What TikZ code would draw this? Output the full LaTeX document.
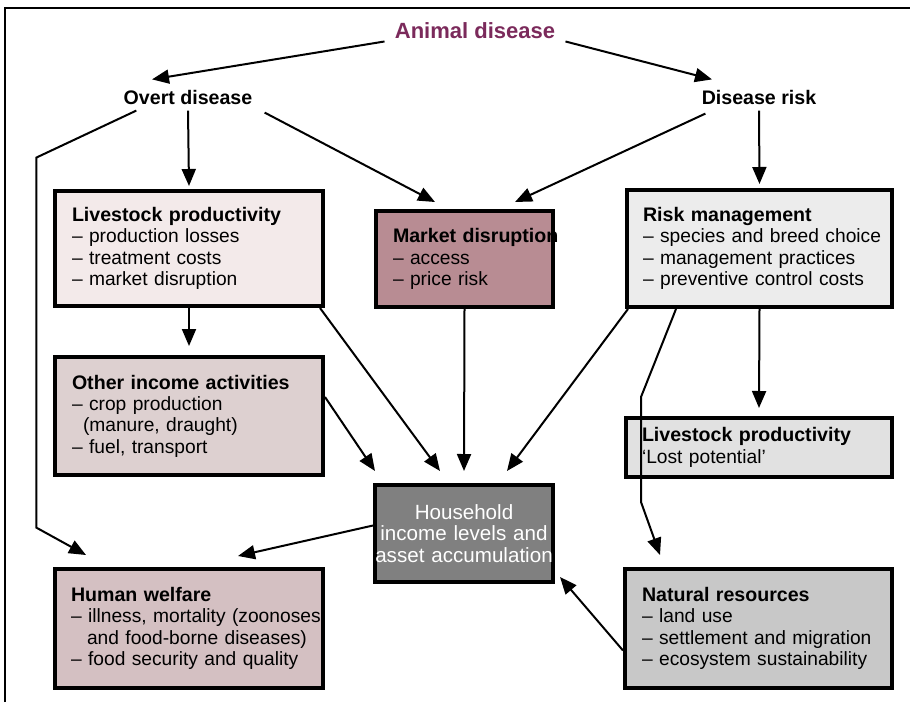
\documentclass[tikz,border=0pt]{standalone}
\usepackage{fontspec}
\setmainfont{Liberation Sans}
\usetikzlibrary{arrows.meta,calc}

\definecolor{adtitle}{RGB}{123,42,91}
\definecolor{fillLP}{RGB}{243,234,234}
\definecolor{fillMK}{RGB}{184,140,147}
\definecolor{fillRM}{RGB}{236,236,236}
\definecolor{fillOI}{RGB}{221,208,208}
\definecolor{fillLO}{RGB}{225,225,225}
\definecolor{fillHH}{RGB}{128,128,128}
\definecolor{fillHW}{RGB}{212,192,194}
\definecolor{fillNR}{RGB}{200,200,200}

\newcommand\bodysize{\fontsize{9.6}{10.65}\selectfont}
% panel title and panel line, never broken across lines
\newcommand\ptitle[1]{\mbox{\fontsize{9.8}{10.65}\selectfont\bfseries #1}}
\newcommand\pline[1]{\mbox{#1}}

\tikzset{
  head/.style={font=\bfseries\fontsize{9.8}{11}\selectfont, inner sep=1pt},
  panel/.style={draw=black, line width=2pt, inner xsep=8.5pt, inner ysep=0pt,
    align=left, font=\bodysize, anchor=center},
  link/.style={line width=1pt, -{Triangle[length=8.5pt,width=7pt]}},
}

\begin{document}
\begin{tikzpicture}[x=0.5pt,y=-0.5pt]
\useasboundingbox (0,0) rectangle (910,702);

% open frame: top and left edges only
\draw[line width=1pt] (5,702) -- (5,8) -- (910,8);

% headings
\node[head, text=adtitle, font=\bfseries\fontsize{11}{13}\selectfont] (ad) at (475,31) {Animal disease};
\node[head] (od) at (188,97) {Overt disease};
\node[head] (dr) at (759,97) {Disease risk};

% panels
\node[panel, fill=fillLP, minimum width=134pt, minimum height=57.5pt, text width=117pt]
  (lp) at (189,248.5)
  {\ptitle{Livestock productivity}\\
   \pline{– production losses}\\
   \pline{– treatment costs}\\
   \pline{– market disruption}};

\node[panel, fill=fillMK, minimum width=88.5pt, minimum height=48pt, text width=71.5pt]
  (mk) at (464.5,259)
  {\ptitle{Market disruption}\\
   \pline{– access}\\
   \pline{– price risk}};

\node[panel, fill=fillRM, minimum width=132.5pt, minimum height=58.5pt, text width=116.5pt,
      inner xsep=8pt]
  (rm) at (759.5,248.5)
  {\ptitle{Risk management}\\
   \pline{– species and breed choice}\\
   \pline{– management practices}\\
   \pline{– preventive control costs}};

\node[panel, fill=fillOI, minimum width=134pt, minimum height=59pt, text width=117pt]
  (oia) at (189,416)
  {\ptitle{Other income activities}\\
   \pline{– crop production}\\
   \pline{\hspace*{5.5pt}(manure, draught)}\\
   \pline{– fuel, transport}};

\node[panel, fill=fillLO, minimum width=133pt, minimum height=29.5pt, text width=117pt,
      inner xsep=8pt]
  (lost) at (759,447.5)
  {\ptitle{Livestock productivity}\\
   \pline{‘Lost potential’}};

\node[panel, fill=fillHH, text=white, align=center, inner xsep=0pt,
      minimum width=89pt, minimum height=48.5pt, text width=89pt,
      font=\fontsize{10.3}{10.6}\selectfont]
  (hh) at (464,533.5)
  {Household\\
   income levels and\\
   \makebox[\linewidth][c]{asset accumulation}};

\node[panel, fill=fillHW, minimum width=134pt, minimum height=59.5pt, text width=118pt,
      inner xsep=8pt]
  (hw) at (189,628.5)
  {\ptitle{Human welfare}\\
   \pline{– illness, mortality (zoonoses}\\
   \pline{\hspace*{8pt}and food-borne diseases)}\\
   \pline{– food security and quality}};

\node[panel, fill=fillNR, minimum width=133.5pt, minimum height=59.5pt, text width=116.5pt]
  (nr) at (758.5,628.5)
  {\ptitle{Natural resources}\\
   \pline{– land use}\\
   \pline{– settlement and migration}\\
   \pline{– ecosystem sustainability}};

% connectors from the two kinds of disease effect
\draw[link] ($(ad.south west)+(-8,0)$) -- ($(od.north)+(-36,-8)$);
\draw[link] ($(ad.south east)+(8,0)$) -- ($(dr.north)+(-47,-8)$);
\draw[link] ($(od.south)+(0,4)$) -- ($(lp.north)+(0,-3)$);
\draw[link] ($(od.south east)+(10,6)$) -- ($(mk.north)+(-29.5,-7)$);
\draw[link] ($(dr.south west)+(6,7)$) -- ($(mk.north)+(50.5,-7)$);
\draw[link] ($(dr.south)+(0,4)$) -- ($(rm.north)+(0,-4)$);
\draw[link] ($(od.south west)+(15,4)$) -- ++(-100,47) -- ++(0,370)
  -- ($(hw.north west)+(33,-12)$);

% connectors between the panels
\draw[link] (lp.south) -- ($(oia.north)+(0,-9)$);
\draw[link] ($(lp.south east)+(-5,0)$) -- ($(hh.north)+(-24,-12)$);
\draw[link] (mk.south) -- ($(hh.north)+(0,-12)$);
\draw[link] ($(rm.south west)+(3,0)$) -- ($(hh.north)+(43,-12)$);
\draw[link] ($(oia.east)+(0,-19)$) -- ($(hh.north west)+(2,-12)$);
\draw[link] (rm.south) -- ($(lost.north)+(0,-8)$);
\draw[link] ($(rm.south west)+(51,0)$) -- ++(-35,88) -- ++(0,105)
  -- ($(nr.north west)+(37,-12)$);
\draw[link] ($(hh.west)+(0,-8)$) -- ($(hw.north)+(49,-11)$);
\draw[link] ($(nr.west)+(0,22)$) -- ($(hh.south east)+(5,-7)$);
\end{tikzpicture}
\end{document}
